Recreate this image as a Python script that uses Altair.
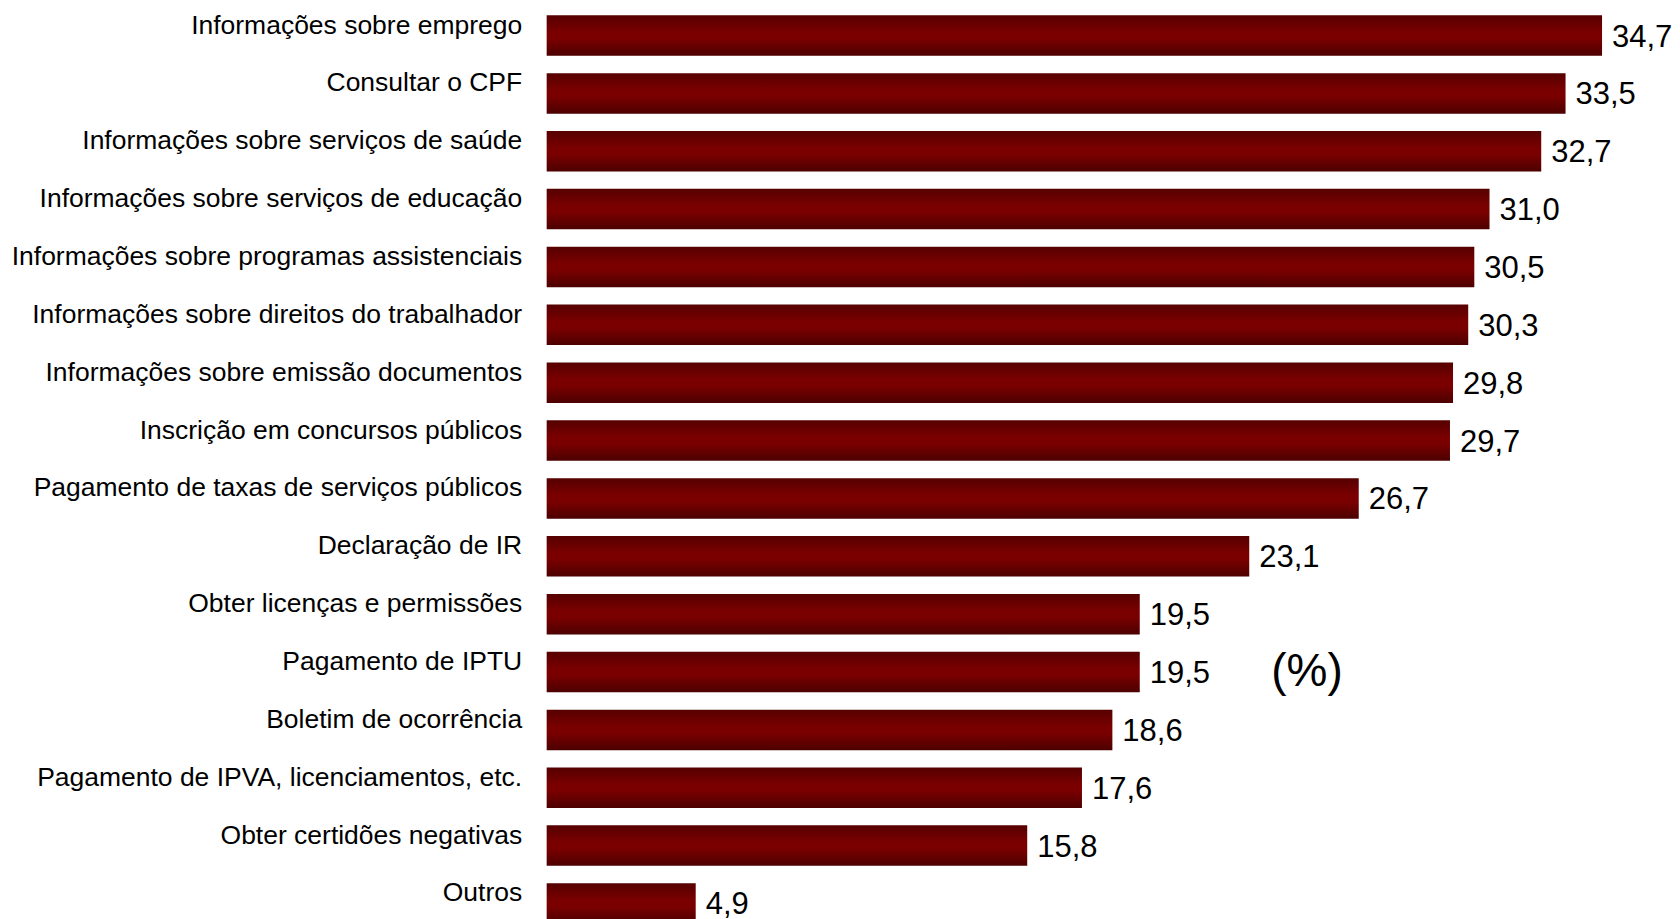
import altair as alt
import pandas as pd

categories = [
    "Informações sobre emprego",
    "Consultar o CPF",
    "Informações sobre serviços de saúde",
    "Informações sobre serviços de educação",
    "Informações sobre programas assistenciais",
    "Informações sobre direitos do trabalhador",
    "Informações sobre emissão documentos",
    "Inscrição em concursos públicos",
    "Pagamento de taxas de serviços públicos",
    "Declaração de IR",
    "Obter licenças e permissões",
    "Pagamento de IPTU",
    "Boletim de ocorrência",
    "Pagamento de IPVA, licenciamentos, etc.",
    "Obter certidões negativas",
    "Outros",
]
values = [34.7, 33.5, 32.7, 31.0, 30.5, 30.3, 29.8, 29.7, 26.7, 23.1, 19.5, 19.5, 18.6, 17.6, 15.8, 4.9]
value_labels = [f"{v:.1f}".replace(".", ",") for v in values]

unit_text = ["(%)"]
unit_x = [25.0]
unit_row = ["Pagamento de IPTU"]

df = pd.DataFrame({"cat": categories, "val": values, "lbl": value_labels})
df_unit = pd.DataFrame({"t": unit_text, "x": unit_x, "cat": unit_row})

FONT = "Liberation Sans"

y_enc = alt.Y(
    "cat:N",
    sort=categories,
    scale=alt.Scale(range=[0, 909], paddingInner=0.3, paddingOuter=0),
    axis=alt.Axis(
        title=None,
        domain=False,
        ticks=False,
        grid=False,
        labelFont=FONT,
        labelFontSize=26.5,
        labelColor="#000000",
        labelPadding=25,
        labelLimit=700,
        labelOffset=-10,
    ),
)
x_scale = alt.Scale(domain=[0, 37], nice=False, zero=True)

grad = alt.Gradient(
    gradient="linear",
    x1=0, x2=0, y1=0, y2=1,
    stops=[
        alt.GradientStop(color="#560000", offset=0),
        alt.GradientStop(color="#7a0000", offset=0.42),
        alt.GradientStop(color="#7a0000", offset=0.58),
        alt.GradientStop(color="#4c0000", offset=1),
    ],
)

bars = alt.Chart(df).mark_bar(color=grad, cornerRadius=0).encode(
    y=y_enc,
    x=alt.X("val:Q", scale=x_scale, axis=None),
)

texts = alt.Chart(df).mark_text(
    align="left", baseline="middle", dx=10, dy=2, font=FONT, fontSize=31, color="#000000"
).encode(
    y=alt.Y("cat:N", sort=categories),
    x=alt.X("val:Q", scale=x_scale),
    text="lbl:N",
)

unit = alt.Chart(df_unit).mark_text(
    align="center", baseline="middle", font=FONT, fontSize=46, color="#000000"
).encode(
    y=alt.Y("cat:N", sort=categories),
    x=alt.X("x:Q", scale=x_scale),
    text="t:N",
)

chart = (
    alt.layer(bars, texts, unit)
    .properties(
        width=1126,
        height=904,
        autosize=alt.AutoSizeParams(type="none"),
        padding={"left": 539, "top": 7, "right": 0, "bottom": 0},
        background="#ffffff",
    )
    .configure_view(stroke=None)
)

chart.save("out.html", embed_options={"renderer": "svg", "actions": False})
